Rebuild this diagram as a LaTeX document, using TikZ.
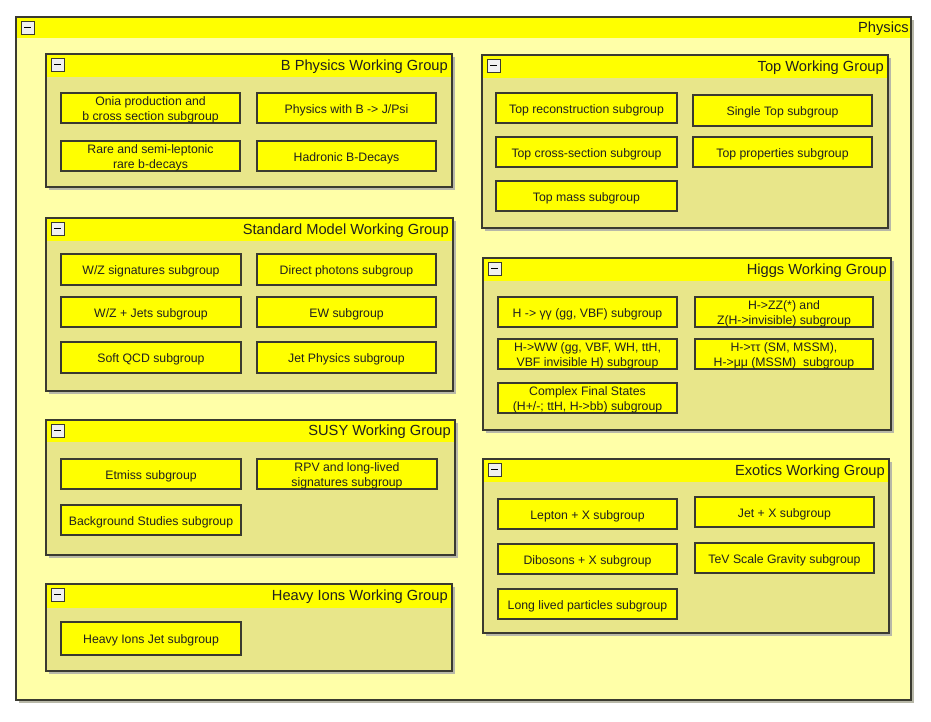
\documentclass[tikz,border=0pt]{standalone}
\usepackage{fontspec}
\setmainfont{Liberation Sans}
\begin{document}
\begin{tikzpicture}[x=0.75pt,y=-0.75pt]
\definecolor{outerc}{HTML}{FFFFA8}
\definecolor{hdrc}{HTML}{FFFF00}
\definecolor{bodyc}{HTML}{E8E68A}
\definecolor{edgec}{HTML}{3A3A30}
\definecolor{shadc}{HTML}{B8B8A8}
\definecolor{txtc}{HTML}{202020}
\tikzset{
  frame/.style={draw=edgec,line width=1pt},
  subbox/.style={draw=edgec,line width=1.1pt,fill=hdrc},
  subtxt/.style={text=txtc,align=center,inner sep=0pt,yshift=-1.5pt,font=\fontsize{9.2}{10.8}\selectfont},
  hdrtxt/.style={text=txtc,anchor=east,inner sep=0pt,yshift=-0.8pt,font=\fontsize{11}{13}\selectfont},
  shadow/.style={fill=shadc},
  minusbox/.style={draw=edgec,line width=0.7pt,fill=white!88!gray},
  minusbar/.style={draw=black,line width=1.3pt}
}
\newcommand\minusicon[2]{%
  \draw[minusbox] (#1,#2) rectangle (#1+13,#2+13);
  \draw[minusbar] (#1+3,#2+6.5) -- (#1+10,#2+6.5);}
% group: name, x1, y1, x2, y2, header bottom, title
\newcommand\wgroup[7]{%
  \fill[shadow] (#2+3,#3+3) rectangle (#4+3,#5+3);
  \fill[bodyc] (#2,#3) rectangle (#4,#5);
  \fill[hdrc] (#2,#3) rectangle (#4,#6);
  \draw[frame] (#2,#3) rectangle (#4,#5);
  \minusicon{#2+5}{#3+4}
  \node[hdrtxt] (#1) at (#4-4,{(#3+#6)/2}) {#7};}
% subbox: name, x1, y1, x2, y2, text
\newcommand\sgroup[6]{%
  \draw[subbox] (#2,#3) rectangle (#4,#5);
  \node[subtxt] (#1) at ({(#2+#4)/2},{(#3+#5)/2}) {#6};}

\fill[white] (0,0) rectangle (931,721);
\useasboundingbox (0,0) rectangle (931,721);

% outer Physics frame
\fill[shadow] (19,20) rectangle (914,703);
\fill[outerc] (16,17) rectangle (911,700);
\fill[hdrc] (16,17) rectangle (911,38);
\draw[frame] (16,17) rectangle (911,700);
\minusicon{21}{21}
\node[hdrtxt] (physics) at (909,28) {Physics};

% B Physics
\wgroup{bphys}{46}{54}{452}{187}{77}{B Physics Working Group}
\sgroup{b1}{61}{93}{240}{123}{Onia production and\\b cross section subgroup}
\sgroup{b2}{257}{93}{436}{123}{Physics with B -> J/Psi}
\sgroup{b3}{61}{141}{240}{171}{Rare and semi-leptonic\\rare b-decays}
\sgroup{b4}{257}{141}{436}{171}{Hadronic B-Decays}

% Standard Model
\wgroup{sm}{46}{218}{453}{391}{241}{Standard Model Working Group}
\sgroup{sm1}{61}{254}{241}{285}{W/Z signatures subgroup}
\sgroup{sm2}{257}{254}{436}{285}{Direct photons subgroup}
\sgroup{sm3}{61}{297}{241}{327}{W/Z + Jets subgroup}
\sgroup{sm4}{257}{297}{436}{327}{EW subgroup}
\sgroup{sm5}{61}{342}{241}{373}{Soft QCD subgroup}
\sgroup{sm6}{257}{342}{436}{373}{Jet Physics subgroup}

% SUSY
\wgroup{susy}{46}{420}{455}{555}{442}{SUSY Working Group}
\sgroup{su1}{61}{459}{241}{489}{Etmiss subgroup}
\sgroup{su2}{257}{459}{437}{489}{RPV and long-lived\\signatures subgroup}
\sgroup{su3}{61}{505}{241}{535}{Background Studies subgroup}

% Heavy Ions
\wgroup{hi}{46}{584}{452}{671}{608}{Heavy Ions Working Group}
\sgroup{hi1}{61}{622}{241}{655}{Heavy Ions Jet subgroup}

% Top
\wgroup{top}{482}{55}{888}{228}{78}{Top Working Group}
\sgroup{t1}{496}{93}{677}{123}{Top reconstruction subgroup}
\sgroup{t2}{693}{95}{872}{126}{Single Top subgroup}
\sgroup{t3}{496}{137}{677}{167}{Top cross-section subgroup}
\sgroup{t4}{693}{137}{872}{167}{Top properties subgroup}
\sgroup{t5}{496}{181}{677}{211}{Top mass subgroup}

% Higgs
\wgroup{higgs}{483}{258}{891}{430}{281}{Higgs Working Group}
\sgroup{h1}{498}{297}{677}{327}{H -> γγ (gg, VBF) subgroup}
\sgroup{h2}{695}{297}{873}{327}{H->ZZ(*) and\\Z(H->invisible) subgroup}
\sgroup{h3}{498}{339}{677}{369}{H->WW (gg, VBF, WH, ttH,\\ VBF invisible H) subgroup}
\sgroup{h4}{695}{339}{873}{369}{H->ττ (SM, MSSM),\\H->μμ (MSSM)\ \ subgroup}
\sgroup{h5}{498}{383}{677}{413}{Complex Final States\\(H+/-; ttH, H->bb) subgroup}

% Exotics
\wgroup{exo}{483}{459}{889}{633}{482}{Exotics Working Group}
\sgroup{e1}{498}{499}{677}{529}{Lepton + X subgroup}
\sgroup{e2}{695}{497}{874}{527}{Jet + X subgroup}
\sgroup{e3}{498}{544}{677}{574}{Dibosons + X subgroup}
\sgroup{e4}{695}{543}{874}{573}{TeV Scale Gravity subgroup}
\sgroup{e5}{498}{589}{677}{619}{Long lived particles subgroup}
\end{tikzpicture}
\end{document}
